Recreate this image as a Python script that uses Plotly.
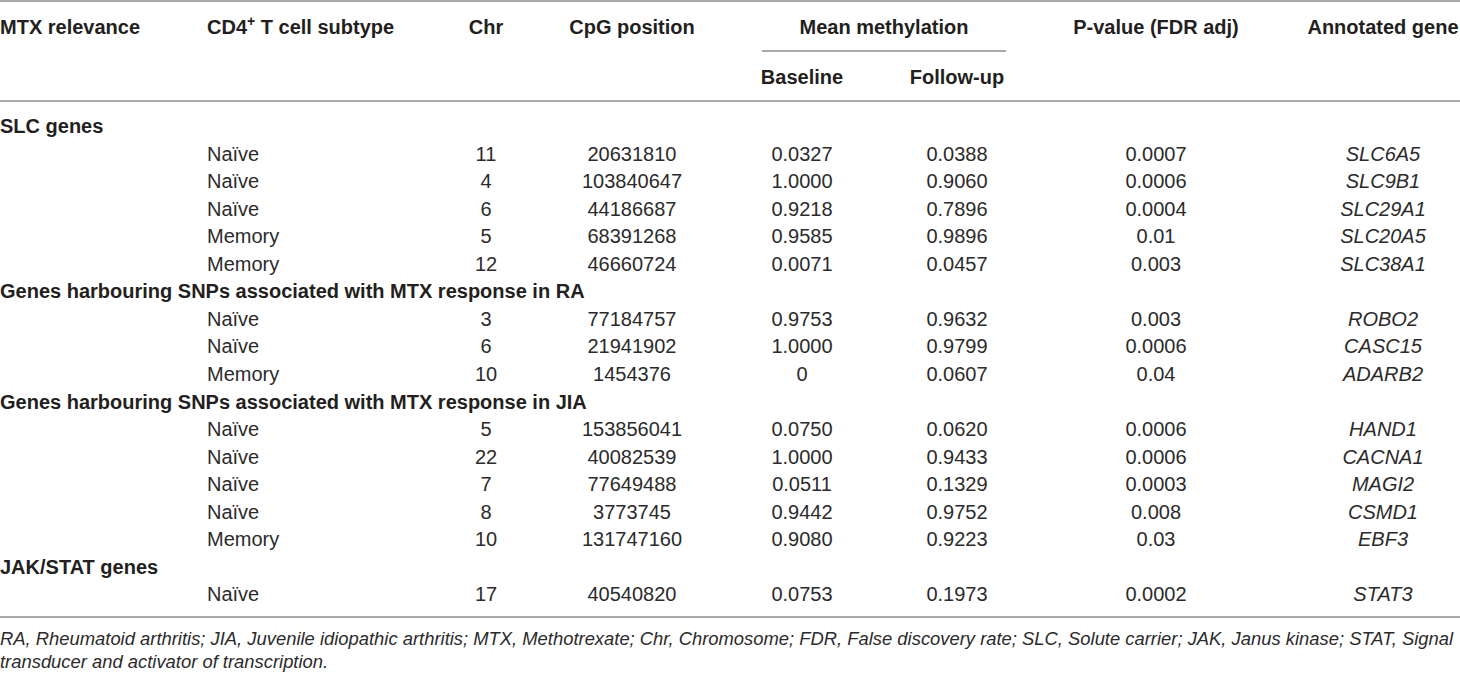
import plotly.graph_objects as go

# ---------------- data ----------------
group_names = [
    "SLC genes",
    "Genes harbouring SNPs associated with MTX response in RA",
    "Genes harbouring SNPs associated with MTX response in JIA",
    "JAK/STAT genes",
]
group_of_row = [0, 0, 0, 0, 0, 1, 1, 1, 2, 2, 2, 2, 2, 3]
subtype = ["Naïve", "Naïve", "Naïve", "Memory", "Memory",
           "Naïve", "Naïve", "Memory",
           "Naïve", "Naïve", "Naïve", "Naïve", "Memory",
           "Naïve"]
chrom = ["11", "4", "6", "5", "12", "3", "6", "10", "5", "22", "7", "8", "10", "17"]
cpg_position = ["20631810", "103840647", "44186687", "68391268", "46660724",
                "77184757", "21941902", "1454376",
                "153856041", "40082539", "77649488", "3773745", "131747160",
                "40540820"]
baseline = ["0.0327", "1.0000", "0.9218", "0.9585", "0.0071",
            "0.9753", "1.0000", "0",
            "0.0750", "1.0000", "0.0511", "0.9442", "0.9080",
            "0.0753"]
followup = ["0.0388", "0.9060", "0.7896", "0.9896", "0.0457",
            "0.9632", "0.9799", "0.0607",
            "0.0620", "0.9433", "0.1329", "0.9752", "0.9223",
            "0.1973"]
pvalue = ["0.0007", "0.0006", "0.0004", "0.01", "0.003",
          "0.003", "0.0006", "0.04",
          "0.0006", "0.0006", "0.0003", "0.008", "0.03",
          "0.0002"]
gene = ["SLC6A5", "SLC9B1", "SLC29A1", "SLC20A5", "SLC38A1",
        "ROBO2", "CASC15", "ADARB2",
        "HAND1", "CACNA1", "MAGI2", "CSMD1", "EBF3",
        "STAT3"]

headers = ["MTX relevance", "CD4<sup>+</sup> T cell subtype", "Chr", "CpG position",
           "Mean methylation", "P-value (FDR adj)", "Annotated gene"]
subheaders = ["Baseline", "Follow-up"]
footnote = [
    "RA, Rheumatoid arthritis; JIA, Juvenile idiopathic arthritis; MTX, Methotrexate; Chr, Chromosome; "
    "FDR, False discovery rate; SLC, Solute carrier; JAK, Janus kinase; STAT, Signal",
    "transducer and activator of transcription.",
]

# ---------------- layout helpers ----------------
W, H = 1460, 674
FONT = "Liberation Sans, Arial, sans-serif"
TXT = "#231f20"
RULE = "#a7a9ac"

x_group = 0
x_sub = 207
x_chr = 486
x_cpg = 632
x_base = 802
x_fol = 957
x_mm = 884
x_p = 1156
x_gene = 1383

y_head = 29
y_sub = 79
row0 = 128
row_step = 27.55

# build row order: group header then its rows
group_line = {}
idx = 0
row_line = []
for r, g in enumerate(group_of_row):
    if g not in group_line:
        group_line[g] = idx
        idx += 1
    row_line.append(idx)
    idx += 1

ys_rows = [row0 + row_step * k for k in row_line]
ys_groups = [row0 + row_step * group_line[g] for g in range(len(group_names))]

fig = go.Figure()

def add_text(xs, ys, texts, pos, size=20, color=TXT):
    fig.add_trace(go.Scatter(
        x=xs, y=ys, text=texts, mode="text", textposition=pos,
        textfont=dict(family=FONT, size=size, color=color),
        hoverinfo="skip", showlegend=False, cliponaxis=False))

# headers
add_text([x_group, x_sub], [y_head, y_head],
         ["<b>%s</b>" % headers[0], "<b>%s</b>" % headers[1]], "middle right")
add_text([x_chr, x_cpg, x_mm, x_p, x_gene], [y_head] * 5,
         ["<b>%s</b>" % h for h in headers[2:]], "middle center")
add_text([x_base, x_fol], [y_sub, y_sub], ["<b>%s</b>" % s for s in subheaders], "middle center")

# group labels
add_text([x_group] * len(group_names), ys_groups, ["<b>%s</b>" % g for g in group_names], "middle right")

# data rows
n = len(subtype)
DATA_C = "#2b2b2b"
add_text([x_sub] * n, ys_rows, subtype, "middle right", color=DATA_C)
add_text([x_chr] * n, ys_rows, chrom, "middle center", color=DATA_C)
add_text([x_cpg] * n, ys_rows, cpg_position, "middle center", color=DATA_C)
add_text([x_base] * n, ys_rows, baseline, "middle center", color=DATA_C)
add_text([x_fol] * n, ys_rows, followup, "middle center", color=DATA_C)
add_text([x_p] * n, ys_rows, pvalue, "middle center", color=DATA_C)
add_text([x_gene] * n, ys_rows, ["<i>%s</i>" % g for g in gene], "middle center", color=DATA_C)

# footnote
add_text([0, 0], [640, 663], ["<i>%s</i>" % f for f in footnote], "middle right", size=18.4, color=DATA_C)

# rules
y_bottom = 617
shapes = [
    dict(type="line", x0=0, x1=W, y0=1, y1=1),
    dict(type="line", x0=0, x1=W, y0=101, y1=101),
    dict(type="line", x0=762, x1=1006, y0=51, y1=51),
    dict(type="line", x0=0, x1=W, y0=y_bottom, y1=y_bottom),
]
for s in shapes:
    s.update(xref="x", yref="y", line=dict(color=RULE, width=2), layer="above")

fig.update_layout(
    width=W, height=H,
    margin=dict(l=0, r=0, t=0, b=0),
    paper_bgcolor="white", plot_bgcolor="white",
    xaxis=dict(range=[0, W], visible=False, fixedrange=True),
    yaxis=dict(range=[H, 0], visible=False, fixedrange=True),
    shapes=shapes,
    showlegend=False,
)

fig.write_html(
    "out.html",
    config={"displayModeBar": False},
    post_script="document.body.style.margin='0';document.body.style.overflow='hidden';",
)
